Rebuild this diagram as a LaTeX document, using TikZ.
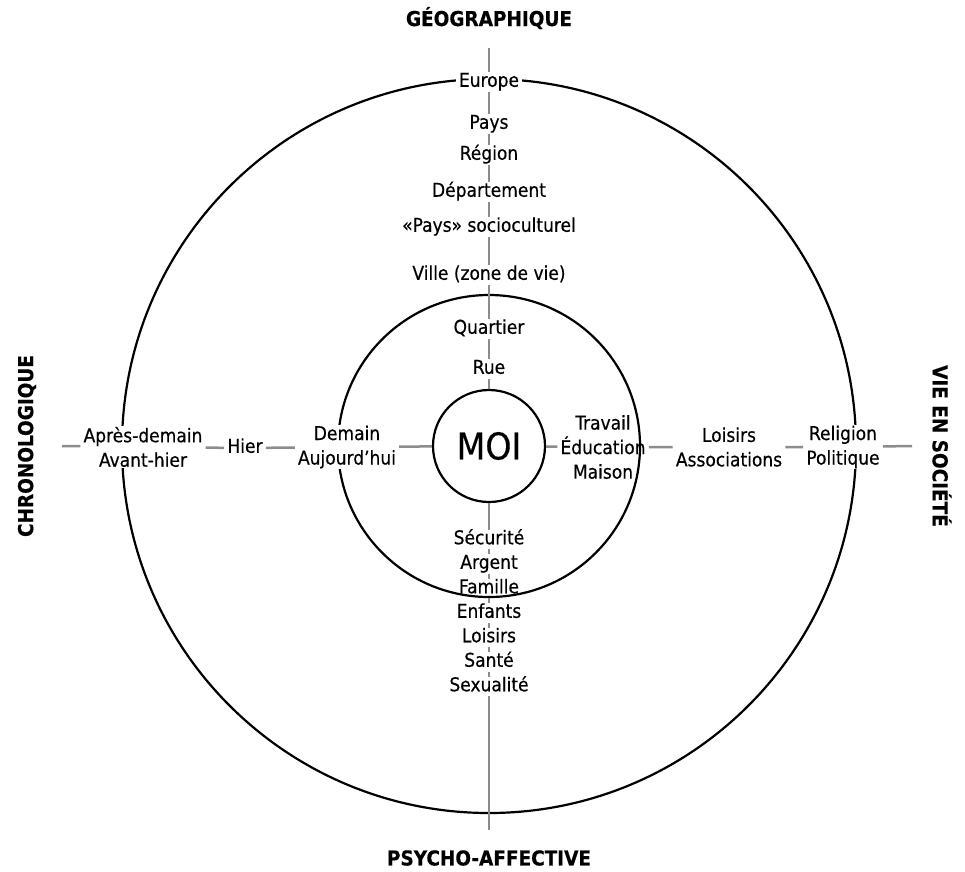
\documentclass[tikz,border=0pt]{standalone}
\usepackage{fontspec}
\setmainfont[FakeBold=0.4]{DejaVu Sans Condensed}

\tikzstyle{lbl}=[fill=white,inner xsep=3pt,inner ysep=1pt,align=center,font=\fontsize{19}{24.5}\selectfont]
\tikzstyle{mot}=[lbl,text height=13.5pt,text depth=4pt]
\tikzstyle{titre}=[font=\fontsize{20.5}{22}\selectfont\bfseries]
\tikzstyle{axe}=[draw=black!45,line width=2.5pt]
\tikzstyle{rond}=[draw=black,line width=2.2pt]

\begin{document}
\begin{tikzpicture}[x=1pt,y=-1pt]
	\useasboundingbox (0,0) rectangle (965,871);
	\coordinate (C) at (489,446);
	\draw[rond] (C) circle (367pt);

	% titres des axes
	\node[titre] (geo) at (489,18) {GÉOGRAPHIQUE};
	\node[titre] (psycho) at (489,858) {PSYCHO-AFFECTIVE};
	\node[titre,rotate=90] (chrono) at (27,446) {CHRONOLOGIQUE};
	\node[titre,rotate=-90] (societe) at (942,446) {VIE EN SOCIÉTÉ};

	% axe geographique
	\node[mot] (europe) at (489,82) {Europe};
	\node[mot] (pays) at (489,124) {Pays};
	\node[mot] (region) at (489,155) {Région};
	\node[mot] (dept) at (489,192) {Département};
	\node[mot] (payssc) at (489,227) {«Pays» socioculturel};
	\node[mot] (ville) at (489,275) {Ville (zone de vie)};
	\node[mot] (quartier) at (489,329) {Quartier};
	\node[mot] (rue) at (489,369) {Rue};

	% axe psycho-affectif
	\foreach \mot [count=\i] in {Sécurité,Argent,Famille,Enfants,Loisirs,Santé,Sexualité}{
		\node[mot] (psy\i) at (489,{515+24.5*\i}) {\mot};
	}

	% axe chronologique et social
	\node[lbl] (apres) at (143,447) {Après-demain\\Avant-hier};
	\node[mot] (hier) at (245,448) {Hier};
	\node[lbl] (travail) at (603,447) {Travail\\Éducation\\Maison};
	\node[lbl] (loisirs) at (729,447) {Loisirs\\Associations};
	\node[lbl] (religion) at (843,447) {Religion\\Politique};

	\draw[rond] (C) circle (151pt);
	\node[lbl] (demain) at (347,447) {Demain\\Aujourd'hui};
	\node[rond,circle,fill=white,minimum size=112pt,inner sep=0pt,font=\fontsize{37}{40}\selectfont] (moi) at (C) {MOI};

	\coordinate (nord) at (489,48);
	\coordinate (sud) at (489,830);
	\coordinate (ouest) at (62,446);
	\coordinate (est) at (912,446);

	\draw[axe] (nord) -- (europe) -- (pays) -- (region) -- (dept) -- (payssc) -- (ville) -- (quartier) -- (rue) -- (moi);
	\draw[axe] (moi) -- (psy1) -- (psy2) -- (psy3) -- (psy4) -- (psy5) -- (psy6) -- (psy7) -- (sud);
	\draw[axe] (ouest) -- (apres) -- (hier) -- (demain) -- (moi);
	\draw[axe] (moi) -- (travail) -- (loisirs) -- (religion) -- (est);
\end{tikzpicture}
\end{document}
